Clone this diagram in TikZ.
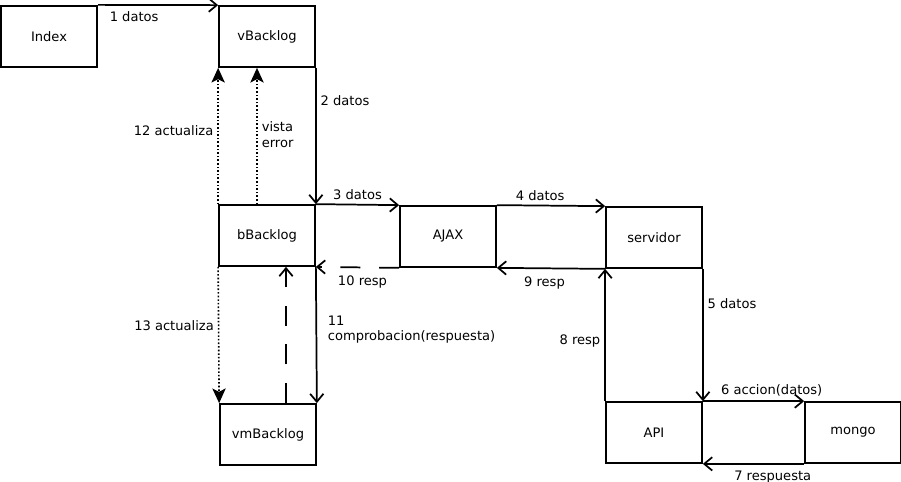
\documentclass[tikz,border=0pt]{standalone}
\usepackage{fontspec}
\setmainfont{DejaVu Sans}
\usetikzlibrary{arrows.meta}

\begin{document}
\begin{tikzpicture}[x=0.75pt, y=-0.75pt,
        box/.style={draw, line width=1.3pt, minimum width=72pt, minimum height=45.75pt, font=\fontsize{9.8}{11.5}\selectfont},
        flow/.style={line width=1.3pt, -{Straight Barb[length=6pt, width=10pt]}},
        dashflow/.style={flow, dash pattern=on 15pt off 14pt},
        dotflow/.style={line width=1.2pt, dash pattern=on 1.2pt off 1.5pt, -{Stealth[length=11pt, width=10pt, inset=2.5pt]}},
        lbl/.style={font=\fontsize{9.8}{11.5}\selectfont, inner sep=3pt}]
        \useasboundingbox (0, 0) rectangle (901, 482);
        \node[box, line width=1.7pt] (Index) at (49, 36.5) {Index};
        \node[box] (vBacklog) at (267, 36.5) {vBacklog};
        \node[box] (bBacklog) at (267, 235.5) {bBacklog};
        \node[box] (vmBacklog) at (268, 434.5) {vmBacklog};
        \node[box] (AJAX) at (448, 236.5) {AJAX};
        \node[box] (servidor) at (654, 237.5) {servidor};
        \node[box] (API) at (654, 432.5) {API};
        \node[box] (mongo) at (853, 432.5) {mongo};

        \draw[flow] (Index.north east) -- node[lbl, below=1.5pt, pos=0.3] {1 datos} (vBacklog.north west);
        \draw[flow] (vBacklog.south east) -- node[lbl, right, pos=0.24] {2 datos} (bBacklog.north east);
        \draw[flow] (bBacklog.north east) -- node[lbl, above] {3 datos} (AJAX.north west);
        \draw[flow] (AJAX.north east) -- node[lbl, above, pos=0.4] {4 datos} (servidor.north west);
        \draw[flow] (servidor.south east) -- node[lbl, right, pos=0.26] {5 datos} (API.north east);
        \draw[flow] (API.north east) -- node[lbl, above, pos=0.68] {6 accion(datos)} (mongo.north west);
        \draw[flow] (mongo.south west) -- node[lbl, below=1.5pt, pos=0.31] {7 respuesta} (API.south east);
        \draw[flow] (API.north west) -- node[lbl, left, pos=0.455] {8 resp} (servidor.south west);
        \draw[flow] (servidor.south west) -- node[lbl, below=3pt, pos=0.56] {9 resp} (AJAX.south east);
        \draw[dashflow] (AJAX.south west) -- node[lbl, below=3pt, pos=0.44] {10 resp} (bBacklog.south east);
        \draw[flow] (bBacklog.south east) -- node[lbl, right, pos=0.46, xshift=5pt, align=left] {11\\comprobacion(respuesta)} (vmBacklog.north east);
        \draw[dashflow] ([xshift=13.5pt]vmBacklog.north) -- ([xshift=14.25pt]bBacklog.south);
        \draw[dotflow] (bBacklog.north west) -- node[lbl, left, pos=0.54] {12 actualiza} (vBacklog.south west);
        \draw[dotflow] ([xshift=-7.5pt]bBacklog.north) -- node[lbl, right, pos=0.51, align=left] {vista\\error} ([xshift=-7.5pt]vBacklog.south);
        \draw[dotflow] (bBacklog.south west) -- node[lbl, left, pos=0.43] {13 actualiza} (vmBacklog.north west);
\end{tikzpicture}
\end{document}
